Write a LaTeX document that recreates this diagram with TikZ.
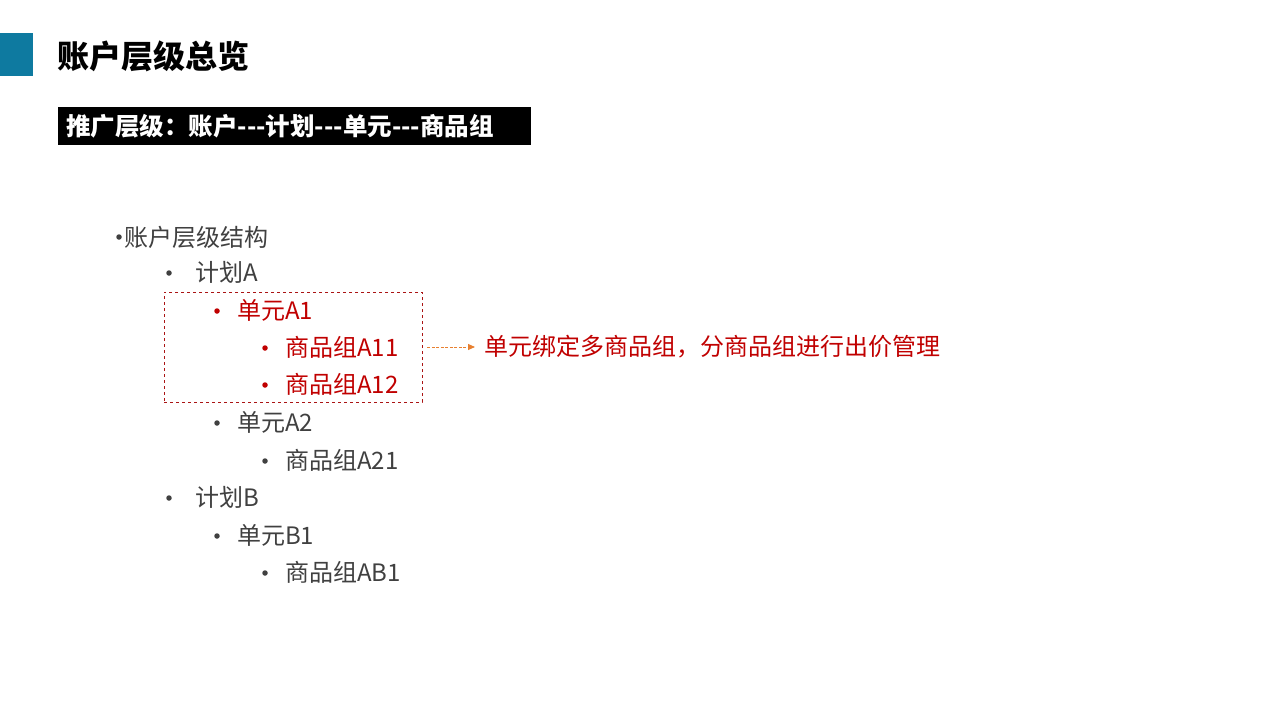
\documentclass[tikz,border=0pt]{standalone}
\usepackage{fontspec}
\setmainfont{Noto Sans CJK SC}
\usetikzlibrary{arrows.meta, positioning}

\definecolor{teal}{RGB}{14,122,160}
\definecolor{txtgray}{RGB}{64,64,64}
\definecolor{darkred}{RGB}{192,0,0}
\definecolor{boxred}{RGB}{170,20,20}
\definecolor{arrorange}{RGB}{232,128,48}

\tikzset{
    item/.style={anchor=west, inner sep=0pt, text=txtgray, font=\fontsize{24}{28}\selectfont},
    hot/.style={item, text=darkred},
    dot/.style={circle, fill=txtgray, inner sep=0pt, minimum size=5.5pt},
    hotdot/.style={dot, fill=darkred},
}

\begin{document}
\begin{tikzpicture}[x=1pt, y=-1pt]

    \useasboundingbox (0,0) rectangle (1280,720);

    % title
    \fill[teal] (0,33) rectangle (33,76);
    \node[anchor=west, inner sep=0pt, font=\fontsize{32}{36}\selectfont\bfseries] (title) at (57,56) {账户层级总览};

    \fill[black] (58,107) rectangle (531,145);
    \node[anchor=west, inner sep=0pt, text=white, font=\fontsize{24.5}{28}\selectfont\bfseries] (level) at (66,126) {推广层级：账户-{}-{}-计划-{}-{}-单元-{}-{}-商品组};

    % list
    \node[dot] (d0) at (119,237) {};
    \node[item] (root) at (124,237) {账户层级结构};

    \node[dot] (d1) at (169,273) {};
    \node[item] (planA) at (195,272) {计划A};

    \node[hotdot] (d2) at (217,311) {};
    \node[hot] (unitA1) at (237,310) {单元A1};

    \node[hotdot] (d3) at (265,348) {};
    \node[hot] (a11) at (285,347) {商品组A11};

    \node[hotdot] (d4) at (265,385) {};
    \node[hot] (a12) at (285,384) {商品组A12};

    \node[dot] (d5) at (217,423) {};
    \node[item] (unitA2) at (237,422) {单元A2};

    \node[dot] (d6) at (265,461) {};
    \node[item] (a21) at (285,460) {商品组A21};

    \node[dot] (d7) at (169,498) {};
    \node[item] (planB) at (195,497) {计划B};

    \node[dot] (d8) at (217,536) {};
    \node[item] (unitB1) at (237,535) {单元B1};

    \node[dot] (d9) at (265,573) {};
    \node[item] (ab1) at (285,572) {商品组AB1};

    % highlight
    \node[draw=boxred, dashed, line width=0.8pt, inner sep=0pt, minimum width=258pt, minimum height=110pt] (grp) at (293,347) {};
    \node[hot] (note) at (484,347) {单元绑定多商品组，分商品组进行出价管理};

    \draw[arrorange, dash pattern=on 3pt off 1.5pt, line width=0.9pt, -{Triangle[length=7pt, width=6pt]}, shorten <=5pt, shorten >=9pt] (grp.east) -- (note.west);

\end{tikzpicture}
\end{document}
